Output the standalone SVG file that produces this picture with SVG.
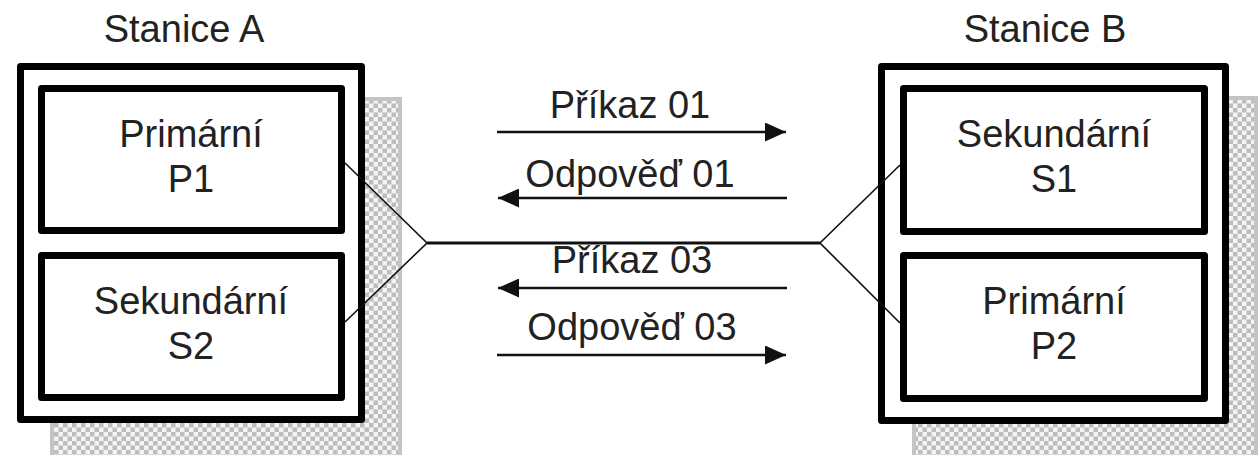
<svg xmlns="http://www.w3.org/2000/svg" width="1260" height="455" viewBox="0 0 1260 455">
  <style>
    .lbl { font-family: "Liberation Sans", Arial, sans-serif; font-size: 38px; fill: #222; text-anchor: middle; }
    .frame { fill: #fff; stroke: #000; stroke-width: 7; stroke-linejoin: round; }
    .shadow { fill: url(#checker); stroke: #c4c4c4; stroke-width: 4; }
    .wire { fill: none; stroke: #111; stroke-width: 1.6; }
    .bus { fill: none; stroke: #111; stroke-width: 3; }
    .msg { fill: none; stroke: #111; stroke-width: 2.5; }
  </style>
  <defs>
    <pattern id="checker" width="9" height="9" patternUnits="userSpaceOnUse">
      <rect width="9" height="9" fill="#f4f4f4"/>
      <rect width="4.5" height="4.5" fill="#bdbdbd"/>
      <rect x="4.5" y="4.5" width="4.5" height="4.5" fill="#bdbdbd"/>
    </pattern>
    <marker id="head" viewBox="0 0 21 19" refX="21" refY="9.5" markerWidth="21" markerHeight="19" markerUnits="userSpaceOnUse" orient="auto">
      <path d="M0,0 L21,9.5 L0,19 Z" fill="#111"/>
    </marker>
  </defs>

  <!-- Station A -->
  <g id="stanice-a">
    <rect class="shadow" x="52" y="99" width="348" height="362"/>
    <rect class="frame" x="20.5" y="66.5" width="341" height="353"/>
    <text class="lbl" x="184" y="42">Stanice A</text>
  </g>
  <g id="primarni-p1">
    <rect class="frame" x="41.5" y="88.5" width="300" height="142"/>
    <text class="lbl" x="191" y="147">Primární</text>
    <text class="lbl" x="191" y="192">P1</text>
  </g>
  <g id="sekundarni-s2">
    <rect class="frame" x="41.5" y="255.5" width="300" height="142"/>
    <text class="lbl" x="191" y="314">Sekundární</text>
    <text class="lbl" x="191" y="359">S2</text>
  </g>

  <!-- Station B -->
  <g id="stanice-b">
    <rect class="shadow" x="914" y="98" width="342" height="363"/>
    <rect class="frame" x="881.5" y="66.5" width="344" height="354"/>
    <text class="lbl" x="1045" y="42">Stanice B</text>
  </g>
  <g id="sekundarni-s1">
    <rect class="frame" x="903.5" y="88.5" width="301" height="143"/>
    <text class="lbl" x="1054" y="147">Sekundární</text>
    <text class="lbl" x="1054" y="192">S1</text>
  </g>
  <g id="primarni-p2">
    <rect class="frame" x="903.5" y="255.5" width="301" height="143"/>
    <text class="lbl" x="1054" y="314">Primární</text>
    <text class="lbl" x="1054" y="359">P2</text>
  </g>

  <!-- Link and message flow -->
  <g id="connectors">
    <polyline class="wire" points="345,163 427,243 345,322"/>
    <polyline class="wire" points="900,165 820,243 900,323"/>
    <line class="bus" x1="427" y1="243" x2="820" y2="243"/>

    <line class="msg" x1="497" y1="132" x2="786" y2="132" marker-end="url(#head)"/>
    <line class="msg" x1="787" y1="198" x2="498" y2="198" marker-end="url(#head)"/>
    <line class="msg" x1="787" y1="288" x2="498" y2="288" marker-end="url(#head)"/>
    <line class="msg" x1="497" y1="355" x2="786" y2="355" marker-end="url(#head)"/>

    <text class="lbl" x="630" y="118">Příkaz 01</text>
    <text class="lbl" x="630" y="187">Odpověď 01</text>
    <text class="lbl" x="632" y="273">Příkaz 03</text>
    <text class="lbl" x="632" y="340">Odpověď 03</text>
  </g>
</svg>
